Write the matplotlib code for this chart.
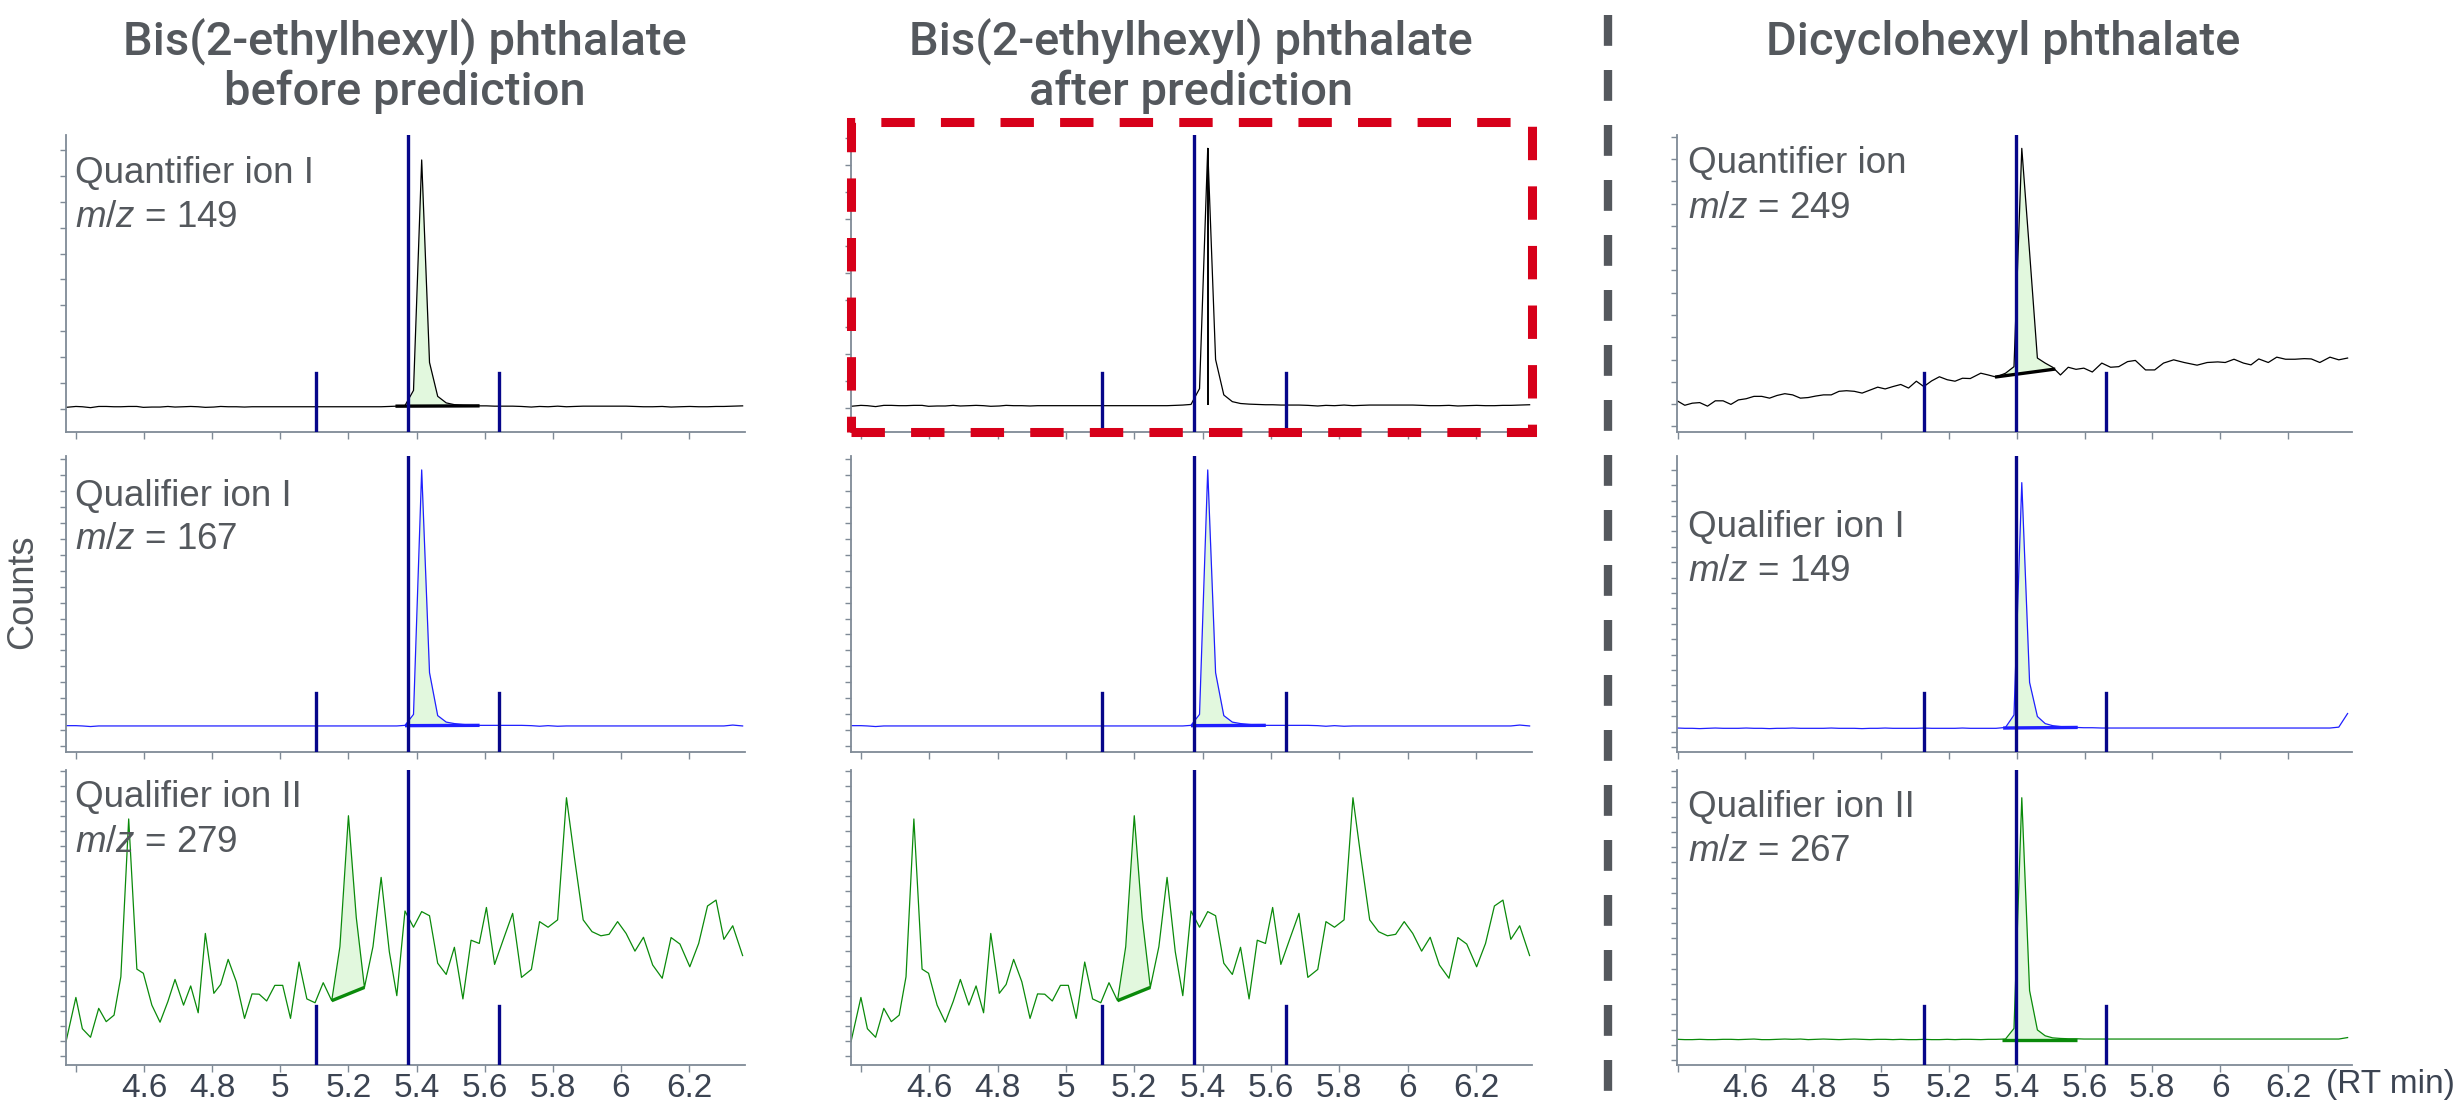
import numpy as np
import matplotlib
matplotlib.use("Agg")
from matplotlib import pyplot as plt
from matplotlib.patches import Rectangle
from matplotlib.lines import Line2D

plt.rcParams['font.family'] = ['Liberation Sans', 'DejaVu Sans']
plt.rcParams['mathtext.fontset'] = 'custom'
plt.rcParams['mathtext.it'] = 'Liberation Sans:italic'
plt.rcParams['mathtext.rm'] = 'Liberation Sans'

# --- data (retention time in min, signal in % of panel height) ---
# Bis(2-ethylhexyl) phthalate scans
t_dehp = [4.371, 4.400, 4.419, 4.443, 4.467, 4.489, 4.512, 4.532, 4.555, 4.579,
          4.598, 4.623, 4.647, 4.670, 4.691, 4.716, 4.737, 4.759, 4.780, 4.805,
          4.825, 4.847, 4.871, 4.895, 4.917, 4.938, 4.960, 4.984, 5.007, 5.030,
          5.055, 5.078, 5.102, 5.126, 5.151, 5.175, 5.200, 5.223, 5.247, 5.272,
          5.296, 5.320, 5.342, 5.366, 5.391, 5.415, 5.438, 5.462, 5.487, 5.511,
          5.536, 5.560, 5.584, 5.605, 5.629, 5.656, 5.682, 5.708, 5.737, 5.761,
          5.786, 5.814, 5.840, 5.863, 5.889, 5.915, 5.941, 5.965, 5.990, 6.015,
          6.041, 6.066, 6.093, 6.121, 6.147, 6.173, 6.202, 6.228, 6.254, 6.279,
          6.302, 6.328, 6.357]

dehp_149 = [8.3, 8.6, 8.5, 8.2, 8.6, 8.6, 8.5, 8.5, 8.6, 8.6,
            8.3, 8.4, 8.4, 8.6, 8.4, 8.5, 8.6, 8.5, 8.3, 8.4,
            8.6, 8.5, 8.5, 8.4, 8.5, 8.5, 8.5, 8.5, 8.5, 8.5,
            8.5, 8.5, 8.5, 8.5, 8.5, 8.5, 8.5, 8.5, 8.5, 8.5,
            8.5, 8.6, 8.7, 8.9, 14.0, 91.6, 23.4, 12.0, 9.8, 9.2,
            9.0, 8.9, 8.8, 8.8, 8.7, 8.7, 8.7, 8.6, 8.4, 8.6,
            8.5, 8.7, 8.5, 8.6, 8.7, 8.7, 8.7, 8.7, 8.7, 8.7,
            8.6, 8.5, 8.5, 8.6, 8.4, 8.5, 8.6, 8.5, 8.5, 8.6,
            8.6, 8.7, 8.8]

dehp_167 = [8.9, 8.9, 8.8, 8.6, 8.8, 8.8, 8.8, 8.8, 8.8, 8.8,
            8.8, 8.8, 8.8, 8.8, 8.8, 8.8, 8.8, 8.8, 8.8, 8.8,
            8.8, 8.8, 8.8, 8.8, 8.8, 8.8, 8.8, 8.8, 8.8, 8.8,
            8.8, 8.8, 8.8, 8.8, 8.8, 8.8, 8.8, 8.8, 8.8, 8.8,
            8.8, 8.8, 8.8, 9.0, 12.7, 95.3, 26.8, 12.3, 10.1, 9.6,
            9.3, 9.1, 9.0, 9.0, 9.0, 9.0, 9.0, 9.0, 8.9, 8.7,
            8.9, 8.7, 8.8, 8.8, 8.8, 8.8, 8.8, 8.8, 8.8, 8.8,
            8.8, 8.8, 8.8, 8.8, 8.8, 8.8, 8.8, 8.8, 8.8, 8.8,
            8.8, 9.1, 8.8]

dehp_279 = [7.9, 22.9, 12.3, 9.4, 19.2, 14.7, 16.9, 29.9, 83.4, 32.5,
            31.1, 20.3, 14.5, 21.5, 29.0, 20.3, 26.8, 17.7, 44.6, 24.3,
            27.3, 35.8, 28.2, 15.8, 24.1, 24.0, 21.7, 27.0, 27.0, 15.8,
            34.9, 22.4, 21.1, 27.9, 21.8, 40.1, 84.5, 50.0, 26.3, 40.1,
            63.6, 38.4, 23.5, 52.2, 46.7, 52.0, 50.6, 34.5, 30.7, 39.9,
            22.4, 42.3, 41.2, 53.4, 34.1, 43.0, 51.4, 29.7, 32.4, 48.6,
            46.7, 49.2, 90.6, 70.6, 49.2, 45.2, 43.8, 44.3, 48.6, 44.6,
            38.6, 43.3, 33.9, 29.4, 43.2, 41.0, 33.3, 41.2, 53.9, 55.9,
            42.6, 47.2, 37.1]

# Dicyclohexyl phthalate scans
t_dchp = [4.400, 4.421, 4.443, 4.465, 4.488, 4.511, 4.534, 4.557, 4.579, 4.602,
          4.625, 4.648, 4.671, 4.693, 4.716, 4.739, 4.762, 4.785, 4.807, 4.830,
          4.853, 4.876, 4.898, 4.921, 4.944, 4.967, 4.990, 5.012, 5.035, 5.058,
          5.081, 5.104, 5.126, 5.149, 5.172, 5.195, 5.218, 5.240, 5.263, 5.294,
          5.316, 5.339, 5.367, 5.392, 5.415, 5.438, 5.461, 5.484, 5.506, 5.529,
          5.552, 5.575, 5.598, 5.623, 5.651, 5.677, 5.701, 5.727, 5.750, 5.780,
          5.807, 5.833, 5.863, 5.894, 5.932, 5.962, 5.993, 6.015, 6.041, 6.069,
          6.091, 6.114, 6.142, 6.167, 6.193, 6.221, 6.248, 6.269, 6.294, 6.324,
          6.350, 6.376]

dchp_249 = [10.4, 9.0, 9.7, 9.9, 8.7, 10.5, 10.5, 9.3, 10.8, 11.2,
            12.0, 12.0, 11.4, 12.3, 12.9, 12.5, 11.4, 11.6, 12.1, 12.5,
            12.5, 13.7, 13.9, 13.7, 13.1, 14.1, 15.1, 14.5, 15.3, 16.0,
            14.8, 17.1, 15.3, 17.2, 18.6, 17.6, 17.1, 18.1, 18.0, 19.8,
            19.2, 18.5, 19.8, 22.0, 95.5, 60.5, 24.9, 23.2, 21.8, 19.2,
            21.8, 21.1, 21.5, 20.2, 23.2, 21.8, 22.0, 23.7, 24.1, 20.9,
            20.9, 23.2, 24.3, 23.4, 22.5, 23.4, 23.6, 23.4, 24.5, 23.2,
            22.6, 24.6, 23.4, 25.2, 24.5, 24.5, 24.7, 24.6, 23.4, 25.2,
            24.3, 24.9]

dchp_149 = [8.1, 8.0, 8.0, 7.9, 8.0, 8.1, 8.0, 8.0, 8.0, 8.1,
            8.0, 8.0, 7.9, 8.0, 8.0, 8.1, 8.0, 8.0, 8.0, 8.0,
            8.1, 8.0, 8.0, 8.0, 7.9, 8.0, 8.0, 8.1, 8.0, 8.0,
            8.0, 8.0, 8.1, 8.0, 8.0, 8.0, 8.0, 8.1, 8.0, 8.0,
            8.0, 8.0, 8.3, 12.5, 91.0, 23.5, 12.0, 9.6, 8.9, 8.6,
            8.4, 8.3, 8.2, 8.2, 8.1, 8.1, 8.1, 8.1, 8.1, 8.1,
            8.1, 8.1, 8.1, 8.1, 8.1, 8.1, 8.1, 8.1, 8.1, 8.1,
            8.1, 8.1, 8.1, 8.1, 8.1, 8.1, 8.1, 8.1, 8.1, 8.1,
            8.4, 13.0]

dchp_267 = [8.7, 8.6, 8.6, 8.7, 8.6, 8.6, 8.7, 8.7, 8.6, 8.7,
            8.8, 8.6, 8.6, 8.7, 8.8, 8.7, 8.8, 8.6, 8.7, 8.8,
            8.7, 8.6, 8.7, 8.8, 8.7, 8.6, 8.7, 8.7, 8.6, 8.7,
            8.6, 8.6, 8.7, 8.6, 8.6, 8.7, 8.6, 8.7, 8.7, 8.6,
            8.7, 8.7, 8.8, 12.4, 90.6, 25.2, 11.9, 9.9, 9.2, 9.0,
            8.9, 8.9, 8.8, 8.8, 8.8, 8.8, 8.8, 8.8, 8.8, 8.8,
            8.8, 8.8, 8.8, 8.8, 8.8, 8.8, 8.8, 8.8, 8.8, 8.8,
            8.8, 8.8, 8.8, 8.8, 8.8, 8.8, 8.8, 8.8, 8.8, 8.8,
            8.8, 9.3]

# integration baselines: (t_start, y_start, t_end, y_end)
int_dehp_149 = (5.338, 8.7, 5.585, 8.8)
int_dehp_167 = (5.366, 8.9, 5.585, 9.0)
int_dehp_279 = (5.151, 21.8, 5.247, 26.3)
int_dchp_249 = (5.336, 18.5, 5.514, 21.2)
int_dchp_149 = (5.360, 8.1, 5.580, 8.3)
int_dchp_267 = (5.357, 8.6, 5.579, 8.6)

# expected RT and window limits
rt_dehp = [5.105, 5.374, 5.643]
rt_dchp = [5.128, 5.398, 5.664]

ions_dehp = [("Quantifier ion I", "149"), ("Qualifier ion I", "167"), ("Qualifier ion II", "279")]
ions_dchp = [("Quantifier ion", "249"), ("Qualifier ion I", "149"), ("Qualifier ion II", "267")]

xticks = [4.4, 4.6, 4.8, 5.0, 5.2, 5.4, 5.6, 5.8, 6.0, 6.2]
xticklabels = ["", "4.6", "4.8", "5", "5.2", "5.4", "5.6", "5.8", "6", "6.2"]

# --- styling ---
W, H = 2455, 1109
TXT = "#54585d"
TICKTXT = "#3c4452"
SPINE = "#7f8a96"
NAVY = "#06068a"
FILL = "#e2f8de"

col_px = [(66, 745), (851, 1532), (1677, 2352)]
row_px = [(135, 432), (456, 752), (770, 1065)]
xlims = [(4.371, 6.364), (4.371, 6.364), (4.398, 6.389)]
# y tick (first, step) per row, per column
ytick_spec = [[(7.9, 8.7), (1.9, 5.4), (3.05, 5.08)],
              [(7.9, 8.7), (1.9, 5.4), (3.05, 5.08)],
              [(1.9, 7.5), (1.7, 5.2), (1.7, 5.15)]]
label_y = [[(0.838, 0.690), (0.831, 0.686), (0.875, 0.722)],
           [None, None, None],
           [(0.871, 0.722), (0.725, 0.578), (0.841, 0.692)]]

fig = plt.figure(figsize=(W / 100, H / 100), dpi=100)


def make_ax(c, r):
    x0, x1 = col_px[c]
    y0, y1 = row_px[r]
    ax = fig.add_axes([x0 / W, 1 - y1 / H, (x1 - x0) / W, (y1 - y0) / H])
    for s in ["top", "right"]:
        ax.spines[s].set_visible(False)
    for s in ["left", "bottom"]:
        ax.spines[s].set_color(SPINE)
        ax.spines[s].set_linewidth(1.3)
    ax.set_xlim(*xlims[c])
    ax.set_ylim(0, 100)
    first, step = ytick_spec[c][r]
    ax.set_yticks(np.arange(first, 100, step))
    ax.set_yticklabels([])
    ax.set_xticks(xticks)
    if r == 2:
        ax.set_xticklabels(xticklabels, fontsize=24, color=TICKTXT)
    else:
        ax.set_xticklabels([])
    ax.tick_params(axis="x", direction="out", length=5, width=1, color=SPINE, pad=1)
    ax.tick_params(axis="y", direction="out", length=4.5, width=1, color=SPINE)
    return ax


def draw_trace(ax, t, y, color, integ=None):
    t = np.asarray(t)
    y = np.asarray(y)
    if integ is not None:
        ta, ya, tb, yb = integ
        inside = (t > ta) & (t < tb)
        xs = np.concatenate([[ta], t[inside], [tb]])
        ys = np.concatenate([[np.interp(ta, t, y)], y[inside], [np.interp(tb, t, y)]])
        base = np.interp(xs, [ta, tb], [ya, yb])
        ax.fill_between(xs, base, ys, where=ys >= base, interpolate=True,
                        color=FILL, lw=0, zorder=1)
    ax.plot(t, y, color=color, lw=0.9, zorder=2)
    if integ is not None:
        ax.plot([ta, tb], [ya, yb], color=color, lw=2.4, zorder=3, solid_capstyle="butt")


def rt_lines(ax, rts):
    ax.axvline(rts[1], ymin=0, ymax=1, color=NAVY, lw=2.4, zorder=4)
    ax.axvline(rts[0], ymin=0, ymax=0.2, color=NAVY, lw=2.4, zorder=4)
    ax.axvline(rts[2], ymin=0, ymax=0.2, color=NAVY, lw=2.4, zorder=4)


def ion_label(ax, c, r, name, mz):
    ly1, ly2 = label_y[c][r]
    lx = 0.013 if c == 0 else 0.016
    ax.text(lx, ly1, name, transform=ax.transAxes, fontsize=26.5, color=TXT, va="baseline")
    ax.text(lx, ly2, "$m/z$ = " + mz, transform=ax.transAxes, fontsize=26.5, color=TXT, va="baseline")


dehp_traces = [(dehp_149, "black", int_dehp_149),
               (dehp_167, "#1f1fff", int_dehp_167),
               (dehp_279, "#0a8a0a", int_dehp_279)]
dchp_traces = [(dchp_249, "black", int_dchp_249),
               (dchp_149, "#1f1fff", int_dchp_149),
               (dchp_267, "#0a8a0a", int_dchp_267)]

# column 1: before prediction
for r in range(3):
    ax = make_ax(0, r)
    y, col, integ = dehp_traces[r]
    draw_trace(ax, t_dehp, y, col, integ)
    rt_lines(ax, rt_dehp)
    ion_label(ax, 0, r, *ions_dehp[r])

# column 2: after prediction
for r in range(3):
    ax = make_ax(1, r)
    y, col, integ = dehp_traces[r]
    if r == 0:
        ax.set_ylim(0, 95.9)
        draw_trace(ax, t_dehp, y, col, None)
        ipk = int(np.argmax(y))
        ax.vlines(t_dehp[ipk], integ[1], y[ipk], color="black", lw=1.4, zorder=3)
    else:
        draw_trace(ax, t_dehp, y, col, integ)
    rt_lines(ax, rt_dehp)

# column 3: dicyclohexyl phthalate
for r in range(3):
    ax = make_ax(2, r)
    y, col, integ = dchp_traces[r]
    draw_trace(ax, t_dchp, y, col, integ)
    rt_lines(ax, rt_dchp)
    ion_label(ax, 2, r, *ions_dchp[r])

# titles (size fitted so the first line is ~564 px wide like the original)
title_kw = dict(color=TXT, ha="center", va="baseline",
                family=["Roboto", "Liberation Sans", "DejaVu Sans"], weight="medium")
titles = [
    fig.text(405 / W, 1 - 55 / H, "Bis(2-ethylhexyl) phthalate", fontsize=36, **title_kw),
    fig.text(405 / W, 1 - 105 / H, "before prediction", fontsize=36, **title_kw),
    fig.text(1191 / W, 1 - 55 / H, "Bis(2-ethylhexyl) phthalate", fontsize=36, **title_kw),
    fig.text(1191 / W, 1 - 105 / H, "after prediction", fontsize=36, **title_kw),
    fig.text(2003 / W, 1 - 55 / H, "Dicyclohexyl phthalate", fontsize=36, **title_kw),
]
renderer = fig.canvas.get_renderer()
w0 = titles[0].get_window_extent(renderer).width
for t in titles:
    t.set_fontsize(36 * 564 / w0)

fig.text(23 / W, 1 - 592 / H, "Counts", rotation=90, fontsize=26, color=TXT, ha="center", va="center")
fig.text(2326 / W, 1 - 1084 / H, "(RT min)", fontsize=24, color=TICKTXT, ha="left", va="center")

# red highlight box around the predicted quantifier trace
fig.add_artist(Rectangle((851 / W, 1 - 432 / H), (1532 - 851) / W, (432 - 122) / H,
                         transform=fig.transFigure, fill=False, edgecolor="#d7001a",
                         lw=6.5, linestyle=(0, (3.7, 2.9)), zorder=10))

# grey separator
fig.add_artist(Line2D([1608 / W, 1608 / W], [1 - 15 / H, 0], transform=fig.transFigure,
                      color=TXT, lw=6, linestyle=(0, (3.7, 2.9))))

fig.savefig("out.png", dpi=100)
